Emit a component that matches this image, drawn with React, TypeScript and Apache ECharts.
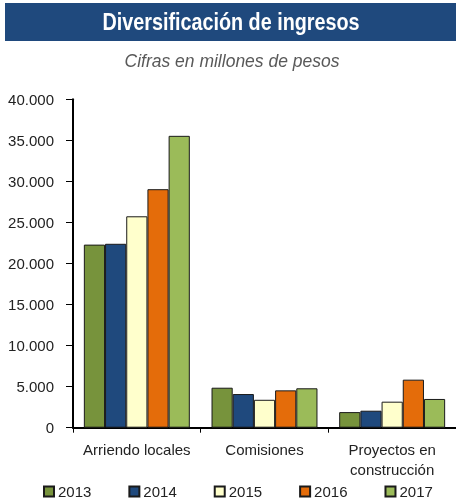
import React, { useEffect, useRef } from "react";
import * as echarts from "echarts";

const categories = ["Arriendo locales", "Comisiones", "Proyectos en\nconstrucción"];
const years = ["2013", "2014", "2015", "2016", "2017"];
const values2013 = [22300, 4870, 1900];
const values2014 = [22400, 4100, 2070];
const values2015 = [25750, 3400, 3170];
const values2016 = [29050, 4550, 5850];
const values2017 = [35550, 4800, 3500];
const yTicks = [0, 5000, 10000, 15000, 20000, 25000, 30000, 35000, 40000];
const colors = ["#77933C", "#1F497D", "#FFFFCC", "#E46C0A", "#9BBB59"];

const seriesValues = [values2013, values2014, values2015, values2016, values2017];

const fmt = (v: number) => String(v).replace(/\B(?=(\d{3})+(?!\d))/g, ".");

export default function App() {
  const ref = useRef<HTMLDivElement>(null);
  useEffect(() => {
    const chart = echarts.init(ref.current!, null, { renderer: "svg" });
    const font = "'Liberation Sans', Arial, sans-serif";
    chart.setOption({
      animation: false,
      textStyle: { fontFamily: font },
      graphic: [
        { type: "rect", shape: { x: 5, y: 3, width: 451, height: 38 }, style: { fill: "#1F497D" } },
        {
          type: "text", x: 231, y: 22, scaleX: 0.86,
          style: { text: "Diversificación de ingresos", fill: "#ffffff", font: "bold 23px 'Liberation Sans', Arial", align: "center", verticalAlign: "middle" },
        },
        {
          type: "text", x: 232, y: 61,
          style: { text: "Cifras en millones de pesos", fill: "#595959", font: "italic 17.5px 'Liberation Sans', Arial", align: "center", verticalAlign: "middle" },
        },
      ],
      grid: { left: 73, right: 0, top: 99.3, bottom: 73.3, containLabel: false },
      legend: {
        left: 43, top: 484, padding: 0, itemWidth: 10, itemHeight: 10, itemGap: 37,
        icon: "rect",
        textStyle: { fontSize: 15, lineHeight: 15, color: "#222", fontFamily: font, padding: [0, 0, 0, -1] },
        data: years,
      },
      xAxis: {
        type: "category",
        data: categories,
        axisLine: { lineStyle: { color: "#000", width: 2 } },
        axisTick: { show: true, length: 5, lineStyle: { color: "#000", width: 1 } },
        axisLabel: { interval: 0, fontSize: 15, color: "#222", margin: 12, lineHeight: 20, fontFamily: font },
      },
      yAxis: {
        type: "value",
        min: 0, max: 40000, interval: 5000,
        axisLine: { show: true, lineStyle: { color: "#000", width: 2 } },
        axisTick: { show: true, length: 7, lineStyle: { color: "#000", width: 1 } },
        splitLine: { show: false },
        axisLabel: { fontSize: 15, color: "#222", margin: 19, fontFamily: font, formatter: (v: number) => fmt(v) },
      },
      series: years.map((y, i) => ({
        name: y,
        type: "bar",
        data: seriesValues[i],
        barGap: "0%",
        barCategoryGap: "17%",
        itemStyle: { color: colors[i], borderColor: "#1a1a1a", borderWidth: 1 },
      })),
    });
    return () => chart.dispose();
  }, []);
  return <div ref={ref} style={{ position: "fixed", left: 0, top: 0, width: 456, height: 501 }} />;
}
